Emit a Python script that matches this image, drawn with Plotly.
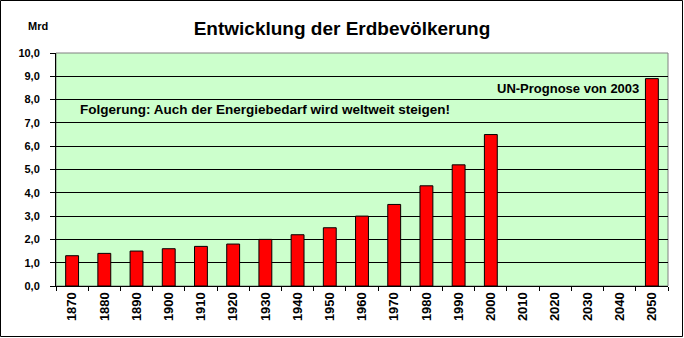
import plotly.graph_objects as go

years = ["1870", "1880", "1890", "1900", "1910", "1920", "1930", "1940", "1950", "1960",
         "1970", "1980", "1990", "2000", "2010", "2020", "2030", "2040", "2050"]
population = [1.3, 1.4, 1.5, 1.6, 1.7, 1.8, 2.0, 2.2, 2.5, 3.0,
              3.5, 4.3, 5.2, 6.5, None, None, None, None, 8.9]
y_ticks = [0, 1, 2, 3, 4, 5, 6, 7, 8, 9, 10]

W, H = 684, 338
L, R, T, B = 56, 16, 53, 52
pw, ph = W - L - R, H - T - B

font = "Liberation Sans, Arial, sans-serif"

fig = go.Figure(go.Bar(
    x=years, y=population,
    marker=dict(color="#FF0000", line=dict(color="black", width=1)),
    width=0.4,
))

fig.update_layout(
    width=W, height=H,
    margin=dict(l=L, r=R, t=T, b=B, pad=0),
    paper_bgcolor="white",
    plot_bgcolor="#CCFFCC",
    separators=",.",
    showlegend=False,
    font=dict(family=font, color="black"),
    title=dict(text="<b>Entwicklung der Erdbevölkerung</b>", x=(342) / W, xanchor="center",
               y=1 - 28 / H, yanchor="middle", font=dict(size=19, family=font)),
    xaxis=dict(
        type="category", range=[-0.5, 18.5], tickson="boundaries",
        ticks="outside", ticklen=4, tickcolor="black", tickwidth=1,
        tickangle=-90, tickfont=dict(size=13, family=font, weight="bold"),
        showline=True, linecolor="black", linewidth=1, showgrid=False,
        fixedrange=True,
    ),
    yaxis=dict(
        range=[0, 10], tickvals=y_ticks, tickformat=".1f",
        ticks="outside", ticklen=5, tickcolor="black", tickwidth=1,
        tickfont=dict(size=11, family=font, weight="bold"),
        showline=True, linecolor="black", linewidth=1,
        showgrid=True, gridcolor="black", gridwidth=1,
        zeroline=False, fixedrange=True, ticklabelstandoff=8,
    ),
    shapes=[
        dict(type="rect", xref="paper", yref="paper", x0=0, x1=1, y0=0, y1=1,
             line=dict(color="#808080", width=1), layer="below"),
        dict(type="rect", xref="paper", yref="paper",
             x0=(0.5 - L) / pw, x1=(W - 1.5 - L) / pw,
             y0=(ph + T - (H - 1.5)) / ph, y1=(ph + T - 0.5) / ph,
             line=dict(color="black", width=1)),
    ],
    annotations=[
        dict(text="<b>Mrd</b>", xref="paper", yref="paper", x=(38 - L) / pw, y=1 + (T - 26) / ph,
             xanchor="center", yanchor="middle", showarrow=False, font=dict(size=11, family=font)),
        dict(text="<b>UN-Prognose von 2003</b>", xref="paper", yref="paper",
             x=(641 - L) / pw, y=(ph + T - 88) / ph, xanchor="right", yanchor="middle",
             showarrow=False, font=dict(size=13, family=font)),
        dict(text="<b>Folgerung: Auch der Energiebedarf wird weltweit steigen!</b>", xref="paper", yref="paper",
             x=(78 - L) / pw, y=(ph + T - 109) / ph, xanchor="left", yanchor="middle",
             showarrow=False, font=dict(size=13.5, family=font)),
    ],
)

fig.write_html("out.html")
